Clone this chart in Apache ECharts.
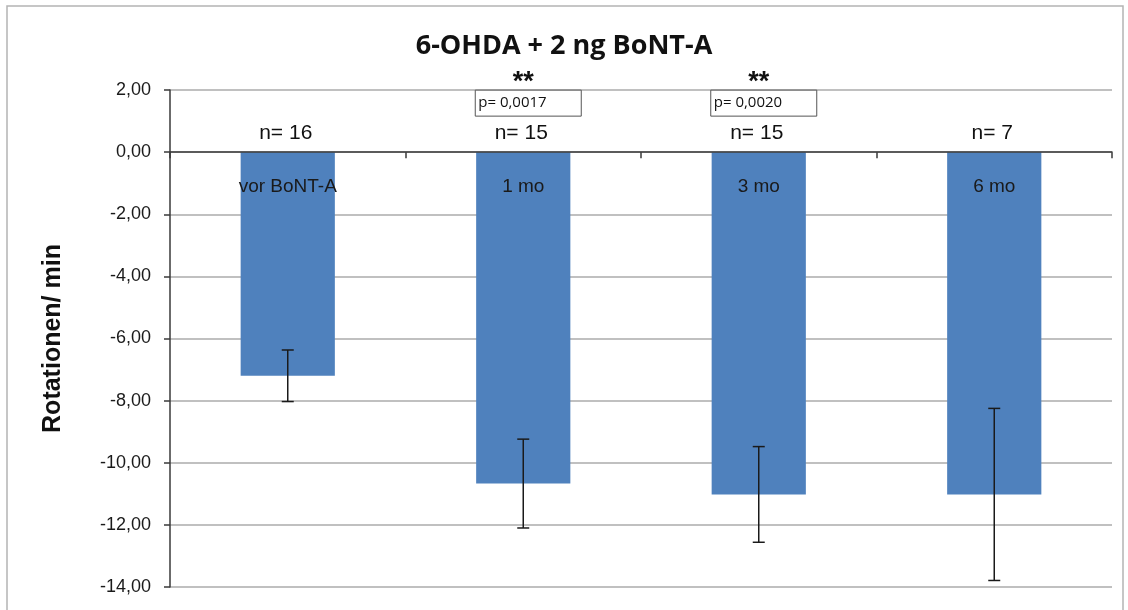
<!DOCTYPE html>
<html>
<head>
<meta charset="utf-8">
<script src="https://cdn.jsdelivr.net/npm/echarts@6/dist/echarts.min.js"></script>
<style>
html,body{margin:0;padding:0;background:#fff;}
#chart{width:1128px;height:610px;}
</style>
</head>
<body>
<div id="chart"></div>
<script>
const categories = ['vor BoNT-A', '1 mo', '3 mo', '6 mo'];
const means = [-7.20, -10.67, -11.02, -11.02];
const errors = [0.83, 1.43, 1.54, 2.77];
const nLabels = ['n= 16', 'n= 15', 'n= 15', 'n= 7'];
const stars = ['', '**', '**', ''];
const pValues = ['', 'p= 0,0017', 'p= 0,0020', ''];
const yTicks = { min: -14, max: 2, interval: 2 };

const chart = echarts.init(document.getElementById('chart'));
const errData = means.map((m, i) => [i, m - errors[i], m + errors[i]]);
const annData = categories.map((c, i) => [i, 0]);

const option = {
  animation: false,
  backgroundColor: '#fff',
  title: {
    text: '6-OHDA + 2 ng BoNT-A',
    left: 'center',
    top: 28,
    textStyle: { fontFamily: 'Open Sans', fontWeight: 'bold', fontSize: 27, color: '#111' }
  },
  graphic: [{
    type: 'rect',
    shape: { x: 7, y: 6, width: 1116, height: 640 },
    style: { fill: null, stroke: '#b4b4b4', lineWidth: 1.5 },
    silent: true
  }],
  grid: { left: 170, right: 16, top: 90, bottom: 23, containLabel: false, outerBoundsMode: 'none' },
  xAxis: {
    type: 'category',
    data: categories,
    z: 5,
    axisLine: { onZero: true, lineStyle: { color: '#3a3a3a', width: 1.5 } },
    axisTick: { show: true, length: 6, lineStyle: { color: '#3a3a3a', width: 1.5 } },
    axisLabel: { show: false },
    splitLine: { show: false }
  },
  yAxis: {
    type: 'value',
    min: yTicks.min,
    max: yTicks.max,
    interval: yTicks.interval,
    name: 'Rotationen/ min',
    nameLocation: 'middle',
    nameGap: 104,
    nameTextStyle: { fontFamily: 'Liberation Sans', fontWeight: 'bold', fontSize: 25, color: '#111' },
    axisLine: { show: true, lineStyle: { color: '#3a3a3a', width: 1.5 } },
    axisTick: { show: true, length: 6, lineStyle: { color: '#3a3a3a', width: 1.5 } },
    axisLabel: {
      margin: 19,
      fontFamily: 'Liberation Sans', fontSize: 18, color: '#1a1a1a',
      formatter: v => v.toFixed(2).replace('.', ',')
    },
    splitLine: { show: true, lineStyle: { color: '#c0c0c0', width: 2 } }
  },
  series: [
    {
      type: 'bar',
      data: means,
      barWidth: '40%',
      itemStyle: { color: '#4f81bd' },
      z: 2
    },
    {
      type: 'custom',
      data: errData,
      z: 6,
      renderItem: function (params, api) {
        const x = api.value(0);
        const lo = api.coord([x, api.value(1)]);
        const hi = api.coord([x, api.value(2)]);
        const cap = 6;
        const st = { stroke: '#1a1a1a', lineWidth: 1.5 };
        return {
          type: 'group',
          children: [
            { type: 'line', shape: { x1: lo[0], y1: lo[1], x2: hi[0], y2: hi[1] }, style: st },
            { type: 'line', shape: { x1: lo[0] - cap, y1: lo[1], x2: lo[0] + cap, y2: lo[1] }, style: st },
            { type: 'line', shape: { x1: hi[0] - cap, y1: hi[1], x2: hi[0] + cap, y2: hi[1] }, style: st }
          ]
        };
      }
    },
    {
      type: 'custom',
      data: annData,
      z: 7,
      clip: false,
      renderItem: function (params, api) {
        const i = api.value(0);
        const p = api.coord([i, api.value(1)]);
        const children = [{
          type: 'text',
          style: {
            x: p[0] - 2, y: p[1] - 19, text: nLabels[i],
            fontFamily: 'Liberation Sans', fontSize: 21, fill: '#111',
            align: 'center', verticalAlign: 'middle'
          }
        }, {
          type: 'text',
          style: {
            x: p[0], y: p[1] + 35, text: categories[i],
            fontFamily: 'Liberation Sans', fontSize: 19, fill: '#1a1a1a',
            align: 'center', verticalAlign: 'middle'
          }
        }];
        if (stars[i]) {
          children.push({
            type: 'text',
            style: {
              x: p[0], y: p[1] - 70, text: stars[i],
              fontFamily: 'Liberation Sans', fontWeight: 'bold', fontSize: 27, fill: '#111',
              align: 'center', verticalAlign: 'middle'
            }
          });
          children.push({
            type: 'rect',
            shape: { x: p[0] - 48, y: p[1] - 62, width: 106, height: 26 },
            style: { fill: '#fff', stroke: '#555', lineWidth: 1 }
          });
          children.push({
            type: 'text',
            style: {
              x: p[0] - 45, y: p[1] - 49, text: pValues[i],
              fontFamily: 'Open Sans', fontSize: 15, fill: '#111',
              align: 'left', verticalAlign: 'middle'
            }
          });
        }
        return { type: 'group', children: children };
      }
    }
  ]
};
chart.setOption(option);
</script>
</body>
</html>
